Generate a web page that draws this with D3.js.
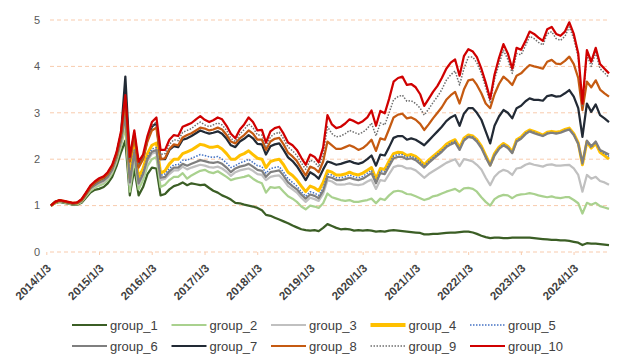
<!DOCTYPE html>
<html><head><meta charset="utf-8">
<script src="https://cdn.jsdelivr.net/npm/d3@7"></script>
<style>body{margin:0;background:#fff}svg{display:block}</style>
</head><body><div id="chart"></div>
<script>
const tickLabels=["2014/1/3","2015/1/3","2016/1/3","2017/1/3","2018/1/3","2019/1/3","2020/1/3","2021/1/3","2022/1/3","2023/1/3","2024/1/3"];
const yTicks=[0,1,2,3,4,5];
const seriesNames=["group_1","group_2","group_3","group_4","group_5","group_6","group_7","group_8","group_9","group_10"];
// monthly observations, 2014/1/3 .. 2024/9/3
const dates=d3.timeMonth.range(new Date(2014,0,3),new Date(2024,8,4));
const g1=[1.00,1.05,1.08,1.06,1.04,1.02,1.02,1.06,1.17,1.28,1.34,1.36,1.40,1.48,1.62,1.85,2.15,
2.40,1.22,1.80,1.22,1.40,1.68,1.82,1.80,1.22,1.25,1.35,1.42,1.45,1.50,1.44,
1.48,1.46,1.44,1.45,1.38,1.32,1.28,1.22,1.18,1.13,1.06,1.05,1.02,1.00,0.98,0.95,0.90,
0.80,0.78,0.74,0.70,0.66,0.62,0.57,0.53,0.49,0.47,0.46,0.47,0.45,0.52,0.60,
0.56,0.52,0.49,0.50,0.49,0.46,0.47,0.46,0.47,0.46,0.44,0.45,0.44,0.46,0.47,0.46,0.45,
0.44,0.43,0.42,0.41,0.38,0.38,0.39,0.39,0.40,0.41,0.42,0.42,0.43,0.44,0.44,0.42,
0.39,0.35,0.32,0.30,0.31,0.31,0.30,0.30,0.31,0.31,0.31,0.31,0.31,0.30,0.29,0.28,
0.27,0.26,0.26,0.25,0.25,0.24,0.22,0.20,0.15,0.19,0.18,0.18,0.17,0.16,0.15,0.14];
const g2=[1.00,1.06,1.09,1.07,1.05,1.03,1.03,1.08,1.20,1.32,1.39,1.43,1.47,1.55,1.70,1.94,2.28,
2.70,1.30,2.00,1.35,1.55,1.85,2.00,2.05,1.40,1.45,1.55,1.62,1.62,1.70,1.58,
1.65,1.70,1.75,1.77,1.72,1.70,1.74,1.68,1.62,1.55,1.58,1.60,1.62,1.65,1.58,1.52,1.48,
1.28,1.40,1.38,1.40,1.30,1.20,1.15,1.08,0.98,0.92,1.00,0.98,0.95,1.05,1.26,
1.18,1.15,1.12,1.10,1.12,1.08,1.08,1.10,1.12,1.15,1.05,1.15,1.12,1.22,1.30,1.32,1.30,
1.25,1.24,1.20,1.16,1.12,1.15,1.20,1.22,1.26,1.30,1.33,1.36,1.30,1.37,1.38,1.36,
1.30,1.18,1.08,1.00,1.14,1.20,1.23,1.22,1.16,1.22,1.24,1.25,1.27,1.25,1.22,1.20,
1.18,1.20,1.17,1.16,1.18,1.18,1.12,1.05,0.83,1.06,1.02,1.06,0.99,0.96,0.93,0.90];
const g3=[1.00,1.06,1.10,1.08,1.06,1.04,1.04,1.09,1.22,1.35,1.42,1.47,1.51,1.59,1.74,1.99,2.35,
2.85,1.45,2.10,1.45,1.65,1.96,2.12,2.15,1.55,1.58,1.68,1.76,1.76,1.84,1.78,
1.82,1.85,1.88,1.86,1.83,1.82,1.84,1.80,1.73,1.64,1.72,1.76,1.78,1.80,1.75,1.68,1.66,
1.55,1.62,1.64,1.65,1.55,1.42,1.35,1.28,1.17,1.08,1.17,1.14,1.10,1.25,1.55,
1.52,1.46,1.45,1.46,1.48,1.45,1.44,1.46,1.52,1.56,1.36,1.55,1.53,1.68,1.83,1.86,1.85,
1.80,1.80,1.76,1.68,1.60,1.68,1.74,1.80,1.86,1.92,1.96,2.00,1.85,2.00,1.98,1.95,
1.88,1.78,1.60,1.44,1.62,1.72,1.77,1.74,1.66,1.80,1.82,1.88,1.91,1.88,1.86,1.84,
1.88,1.89,1.86,1.86,1.87,1.88,1.80,1.66,1.30,1.66,1.58,1.62,1.53,1.50,1.45,1.41];
const g4=[1.00,1.07,1.11,1.09,1.07,1.05,1.05,1.11,1.24,1.38,1.46,1.51,1.56,1.64,1.80,2.05,2.45,
3.00,1.60,2.30,1.60,1.80,2.12,2.30,2.35,1.70,1.75,1.90,2.00,2.00,2.12,2.16,
2.20,2.26,2.32,2.30,2.26,2.26,2.28,2.22,2.12,2.00,2.00,2.08,2.12,2.18,2.10,2.02,2.00,
1.82,1.95,1.98,2.00,1.88,1.72,1.65,1.55,1.42,1.30,1.42,1.38,1.32,1.50,1.75,
1.72,1.66,1.66,1.68,1.72,1.68,1.66,1.70,1.76,1.82,1.57,1.80,1.78,1.96,2.12,2.15,2.14,
2.08,2.10,2.06,1.98,1.88,1.98,2.06,2.14,2.22,2.32,2.38,2.42,2.25,2.45,2.52,2.50,
2.42,2.28,2.08,1.88,2.12,2.26,2.34,2.28,2.16,2.42,2.48,2.58,2.63,2.60,2.56,2.52,
2.58,2.60,2.58,2.60,2.64,2.67,2.55,2.35,1.88,2.38,2.24,2.34,2.15,2.08,2.00,1.92];
const g5=[1.00,1.07,1.10,1.08,1.06,1.04,1.05,1.10,1.23,1.37,1.45,1.51,1.55,1.63,1.78,2.04,2.42,
2.95,1.55,2.20,1.52,1.72,2.05,2.22,2.25,1.65,1.68,1.80,1.88,1.88,1.98,1.98,
2.02,2.06,2.10,2.08,2.05,2.04,2.06,2.00,1.92,1.82,1.86,1.92,1.95,2.00,1.93,1.86,1.84,
1.70,1.80,1.82,1.84,1.72,1.58,1.50,1.42,1.30,1.20,1.30,1.27,1.22,1.38,1.68,
1.66,1.60,1.60,1.62,1.66,1.62,1.60,1.63,1.70,1.76,1.52,1.75,1.73,1.90,2.07,2.10,2.10,
2.04,2.06,2.02,1.94,1.85,1.95,2.03,2.11,2.19,2.28,2.35,2.39,2.22,2.42,2.50,2.48,
2.40,2.26,2.06,1.87,2.10,2.24,2.32,2.26,2.14,2.40,2.46,2.56,2.61,2.58,2.54,2.50,
2.56,2.58,2.56,2.58,2.62,2.65,2.53,2.34,1.90,2.38,2.25,2.36,2.18,2.12,2.06,2.00];
const g6=[1.00,1.07,1.10,1.08,1.06,1.04,1.05,1.10,1.23,1.37,1.44,1.50,1.54,1.62,1.77,2.03,2.40,
2.95,1.50,2.15,1.48,1.68,2.00,2.16,2.20,1.60,1.62,1.74,1.82,1.82,1.90,1.86,
1.90,1.94,1.98,1.96,1.93,1.92,1.94,1.90,1.82,1.72,1.80,1.84,1.86,1.90,1.84,1.77,1.75,
1.62,1.72,1.74,1.76,1.64,1.50,1.42,1.35,1.24,1.15,1.24,1.21,1.16,1.32,1.62,
1.60,1.55,1.55,1.57,1.60,1.57,1.55,1.58,1.64,1.70,1.48,1.70,1.68,1.85,2.02,2.05,2.05,
2.00,2.02,1.98,1.90,1.82,1.92,2.00,2.08,2.16,2.26,2.32,2.36,2.20,2.40,2.48,2.46,
2.38,2.24,2.04,1.86,2.08,2.22,2.30,2.24,2.13,2.38,2.44,2.54,2.60,2.56,2.53,2.50,
2.55,2.57,2.55,2.57,2.61,2.64,2.52,2.33,1.92,2.40,2.28,2.38,2.20,2.15,2.10,2.05];
const g7=[1.00,1.08,1.11,1.09,1.07,1.05,1.06,1.13,1.26,1.41,1.49,1.56,1.60,1.69,1.85,2.11,2.55,
3.78,2.00,2.55,1.85,2.02,2.42,2.70,2.78,2.00,2.00,2.20,2.28,2.26,2.42,2.45,
2.50,2.56,2.62,2.58,2.55,2.57,2.60,2.55,2.44,2.30,2.26,2.38,2.44,2.52,2.45,2.33,2.32,
2.10,2.28,2.32,2.34,2.20,2.04,1.96,1.85,1.70,1.55,1.72,1.66,1.58,1.78,1.95,
1.92,1.88,1.90,1.93,1.96,1.92,1.90,1.93,2.00,2.08,1.86,2.10,2.08,2.26,2.46,2.50,2.50,
2.42,2.45,2.42,2.36,2.30,2.40,2.50,2.60,2.70,2.82,2.90,2.95,2.72,2.98,3.10,3.10,
3.00,2.85,2.60,2.34,2.72,2.92,3.06,3.00,2.88,3.10,3.15,3.25,3.31,3.28,3.28,3.26,
3.36,3.38,3.35,3.36,3.42,3.49,3.35,3.10,2.48,3.20,3.02,3.18,2.95,2.88,2.80,2.74];
const g8=[1.00,1.07,1.11,1.09,1.07,1.05,1.06,1.12,1.26,1.40,1.49,1.55,1.60,1.68,1.84,2.10,2.53,
3.25,1.95,2.50,1.82,2.00,2.38,2.62,2.68,2.00,2.02,2.22,2.32,2.30,2.47,2.52,
2.56,2.62,2.68,2.66,2.62,2.64,2.68,2.64,2.52,2.38,2.34,2.45,2.52,2.62,2.55,2.42,2.42,
2.20,2.38,2.44,2.46,2.32,2.14,2.06,1.96,1.80,1.65,1.84,1.80,1.72,1.95,2.38,
2.30,2.22,2.22,2.26,2.30,2.26,2.20,2.24,2.32,2.42,2.18,2.45,2.42,2.65,2.90,2.96,2.98,
2.88,2.90,2.85,2.76,2.63,2.75,2.88,3.00,3.12,3.28,3.38,3.45,3.20,3.50,3.70,3.72,
3.60,3.42,3.20,3.10,3.40,3.62,3.78,3.70,3.60,3.80,3.85,3.95,4.03,4.00,3.98,3.95,
4.10,4.14,4.06,4.05,4.12,4.21,4.05,3.75,3.06,3.67,3.55,3.70,3.50,3.42,3.35,3.28];
const g9=[1.00,1.08,1.12,1.10,1.08,1.06,1.07,1.14,1.28,1.42,1.51,1.58,1.62,1.71,1.87,2.14,2.58,
3.30,2.00,2.55,1.90,2.05,2.45,2.72,2.80,2.10,2.12,2.32,2.42,2.40,2.58,2.62,
2.66,2.74,2.80,2.74,2.70,2.74,2.78,2.74,2.62,2.45,2.38,2.54,2.64,2.76,2.68,2.52,2.52,
2.28,2.48,2.55,2.58,2.44,2.26,2.18,2.08,1.92,1.78,1.98,1.94,1.83,2.10,2.70,
2.55,2.48,2.50,2.55,2.62,2.58,2.54,2.58,2.66,2.78,2.50,2.78,2.74,3.00,3.28,3.35,3.38,
3.25,3.26,3.20,3.10,2.95,3.08,3.22,3.35,3.50,3.70,3.82,3.90,3.60,3.95,4.20,4.20,
4.08,3.85,3.55,3.22,3.72,4.05,4.35,4.15,3.85,4.28,4.25,4.45,4.65,4.60,4.52,4.46,
4.70,4.75,4.60,4.56,4.65,4.85,4.60,4.20,3.15,4.25,4.00,4.30,3.95,3.86,3.76,3.68];
const g10=[1.00,1.08,1.12,1.10,1.08,1.06,1.07,1.14,1.28,1.43,1.52,1.59,1.63,1.72,1.88,2.15,2.60,
3.38,2.05,2.62,1.95,2.10,2.50,2.80,2.90,2.20,2.20,2.42,2.52,2.50,2.70,2.74,
2.78,2.86,2.93,2.85,2.80,2.84,2.90,2.86,2.72,2.55,2.45,2.64,2.75,2.90,2.80,2.62,2.63,
2.36,2.60,2.67,2.70,2.55,2.36,2.30,2.20,2.03,1.88,2.10,2.05,1.93,2.25,2.95,
2.75,2.67,2.70,2.77,2.86,2.82,2.77,2.82,2.90,3.05,2.72,3.04,2.99,3.30,3.67,3.75,3.78,
3.60,3.62,3.55,3.40,3.15,3.30,3.45,3.58,3.75,3.95,4.08,4.15,3.80,4.22,4.37,4.32,
4.20,3.95,3.65,3.30,3.82,4.18,4.48,4.28,3.95,4.40,4.36,4.55,4.75,4.70,4.62,4.55,
4.80,4.85,4.70,4.66,4.75,4.95,4.70,4.28,3.20,4.35,4.10,4.40,4.05,3.95,3.85,3.75];

const seriesValues=[g1,g2,g3,g4,g5,g6,g7,g8,g9,g10];
const styles=[
 {c:"#3b5e25",w:2.25,d:null},{c:"#a9d18e",w:2.25,d:null},{c:"#c0c0c0",w:2.25,d:null},
 {c:"#ffc000",w:3,d:null},{c:"#4472c4",w:1.5,d:"1.5,1.5"},{c:"#7f7f7f",w:2.25,d:null},
 {c:"#222a35",w:2.25,d:null},{c:"#c55a11",w:2.25,d:null},{c:"#6f6f6f",w:1.5,d:"1.5,1.5"},
 {c:"#d00000",w:2.25,d:null}];

const W=618,H=360;
const svg=d3.select("#chart").append("svg").attr("width",W).attr("height",H);
const parse=d3.timeParse("%Y/%-m/%-d");
const x=d3.scaleTime().domain([dates[0],dates[dates.length-1]]).range([51,609]);
const y=d3.scaleLinear().domain([0,5]).range([252,20]);

// gridlines
svg.append("g").selectAll("line").data(yTicks).join("line")
 .attr("x1",50).attr("x2",610).attr("y1",d=>y(d)).attr("y2",d=>y(d))
 .attr("stroke","#f8cbad").attr("stroke-width",1).attr("stroke-dasharray","4,3");
svg.append("g").selectAll("text").data(yTicks).join("text")
 .attr("x",40).attr("y",d=>y(d)).attr("dy","0.35em").attr("text-anchor","end")
 .attr("font-family","Liberation Sans, Arial, sans-serif").attr("font-size",11).attr("fill","#595959")
 .text(d=>d);
// x ticks & labels
const tk=tickLabels.map(s=>parse(s));
svg.append("g").selectAll("line").data(tk).join("line")
 .attr("x1",d=>x(d)).attr("x2",d=>x(d)).attr("y1",252).attr("y2",255)
 .attr("stroke","#f8cbad").attr("stroke-width",1);
svg.append("g").selectAll("text").data(tickLabels).join("text")
 .attr("transform",d=>`translate(${x(parse(d))+5},${269}) rotate(-45)`)
 .attr("text-anchor","end")
 .attr("font-family","Liberation Sans, Arial, sans-serif").attr("font-size",11.5).attr("font-weight","bold").attr("fill","#404040")
 .text(d=>d);

// lines
const line=d3.line().x((d,i)=>x(dates[i])).y(d=>y(d)).curve(d3.curveLinear);
svg.append("g").selectAll("path").data(seriesValues).join("path")
 .attr("d",line).attr("fill","none")
 .attr("stroke",(d,i)=>styles[i].c).attr("stroke-width",(d,i)=>styles[i].w)
 .attr("stroke-dasharray",(d,i)=>styles[i].d).attr("stroke-linejoin","round");

// legend
const lg=svg.append("g").selectAll("g").data(seriesNames).join("g")
 .attr("transform",(d,i)=>`translate(${72+99.5*(i%5)},${i<5?325:346})`);
lg.append("line").attr("x1",0).attr("x2",35).attr("y1",0).attr("y2",0)
 .attr("stroke",(d,i)=>styles[i].c).attr("stroke-width",(d,i)=>i===3?4:(styles[i].d?1.5:2))
 .attr("stroke-dasharray",(d,i)=>styles[i].d);
lg.append("text").attr("x",38).attr("y",0).attr("dy","0.35em")
 .attr("font-family","Liberation Sans, Arial, sans-serif").attr("font-size",13).attr("fill","#404040")
 .text(d=>d);
</script></body></html>
